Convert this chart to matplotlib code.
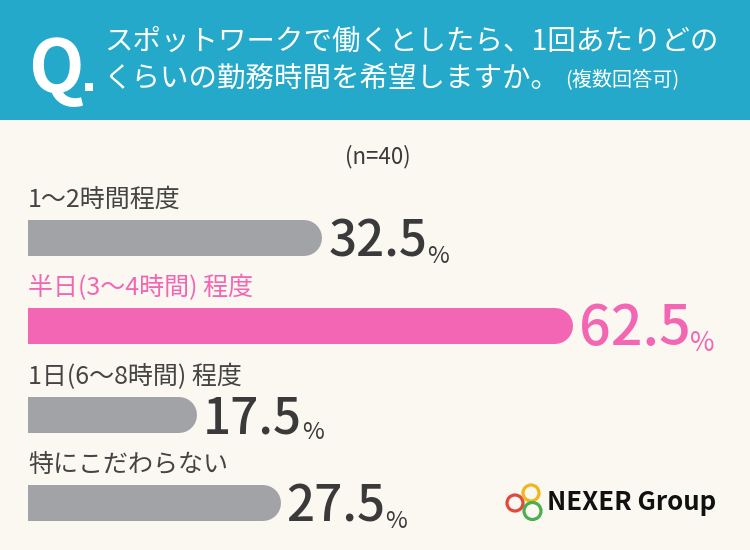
import matplotlib
matplotlib.use("Agg")
import matplotlib.pyplot as plt
from matplotlib.patches import Rectangle, Circle

plt.rcParams['font.family'] = ['Noto Sans CJK JP', 'DejaVu Sans']

# data
categories = ['1〜2時間程度', '半日(3〜4時間) 程度', '1日(6〜8時間) 程度', '特にこだわらない']
values = [32.5, 62.5, 17.5, 27.5]
highlight = [False, True, False, False]
n_label = '(n=40)'
title_1 = 'スポットワークで働くとしたら、1回あたりどの'
title_2 = 'くらいの勤務時間を希望しますか。'
title_note = '(複数回答可)'

BG = '#FBF8F1'
HEAD = '#24A9CA'
GRAY = '#A2A3A7'
PINK = '#F266B3'
DARK = '#3A3A3A'

fig = plt.figure(figsize=(7.5, 5.5), dpi=100, facecolor=BG)

# full-figure layer in pixel coords for header / logo
bg = fig.add_axes([0, 0, 1, 1])
bg.set_xlim(0, 750)
bg.set_ylim(550, 0)
bg.axis('off')
bg.add_patch(Rectangle((0, 0), 750, 120, color=HEAD, lw=0))
bg.text(28, 92, 'Q', color='white', fontsize=52, fontweight='bold', va='baseline', ha='left')
bg.add_patch(Rectangle((85, 83), 7.5, 7.5, color='white', lw=0))
bg.text(104, 42, title_1, color='white', fontsize=20.5, va='center', ha='left')
t2 = bg.text(104, 79, title_2, color='white', fontsize=20.5, va='center', ha='left')
bg.annotate(title_note, xy=(1, 0.45), xycoords=t2, xytext=(4, 0), textcoords='offset points',
            color='white', fontsize=14.5, va='center', ha='left')
bg.text(378, 157, n_label, color=DARK, fontsize=16, ha='center', va='center')

# logo
for (cx, cy, r, c) in [(515, 503, 8, '#E04A3C'), (531, 493, 8, '#F2B51E'), (532.5, 511, 8.5, '#4BAE4F')]:
    bg.add_patch(Circle((cx, cy), r, fill=False, ec=c, lw=2.3))
bg.text(547, 503, 'NEXER Group', color='#111111', fontsize=18.5, fontweight='bold', ha='left', va='center')

# bars
px_per_unit = 8.35
x0 = -2.75
ax_w = 700
top_px, step_px = 238 - 0.5 * 88.3, 88.3
ax = fig.add_axes([28 / 750, 1 - (top_px + 4 * step_px) / 550, ax_w / 750, 4 * step_px / 550])
ax.set_xlim(x0, x0 + ax_w / px_per_unit)
ax.set_ylim(3.5, -0.5)
ax.axis('off')
ax.patch.set_alpha(0)

bar_h = 36 / step_px
lw_pt = 36 * 72 / 100
r = 18 / px_per_unit
for i, (cat, v, hl) in enumerate(zip(categories, values, highlight)):
    col = PINK if hl else GRAY
    tcol = PINK if hl else DARK
    ax.plot([x0 - 5, v - r], [i, i], color=col, lw=lw_pt, solid_capstyle='round')
    ax.text(x0, i - 0.43, cat, color=PINK if hl else '#444444', fontsize=18, va='center', ha='left',
            clip_on=False)
    fs = 40 if hl else 35.5
    num = ax.text(v + 0.7, i + bar_h / 2 + 0.01, f'{v}', color=tcol, fontsize=fs, fontweight='medium',
                  va='baseline', ha='left', clip_on=False)
    ax.annotate('%', xy=(1, 0), xycoords=num, xytext=(0, 0), textcoords='offset points',
                color=tcol, fontsize=fs * 0.48, va='bottom', ha='left')

fig.savefig('out.png', dpi=100, facecolor=BG)
